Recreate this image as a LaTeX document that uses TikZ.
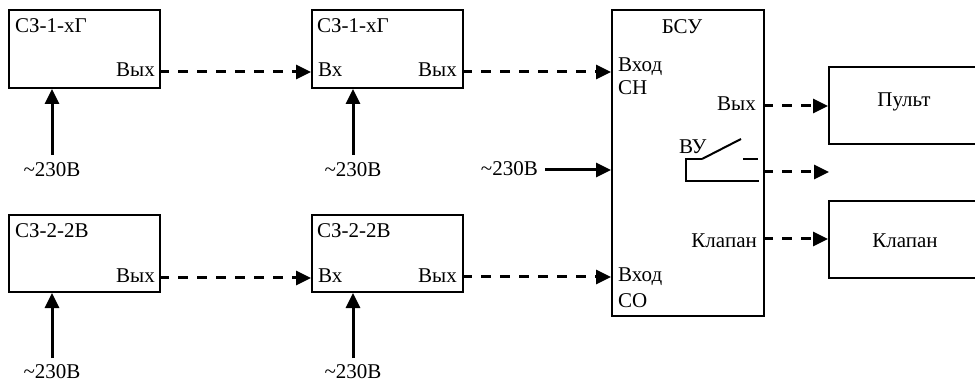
\documentclass[tikz,border=0pt]{standalone}
\usepackage{fontspec}
\setmainfont{Liberation Serif}
\usetikzlibrary{arrows.meta}

\tikzset{
  lbl/.style={inner sep=0pt, font=\fontsize{21}{25}\selectfont},
  blk/.style={draw, line width=2pt, rectangle, inner sep=0pt, anchor=north west},
  power/.style={line width=3pt, -{Triangle[length=15pt,width=14pt]}},
  signal/.style={line width=3pt, dash pattern=on 10pt off 9pt, -{Triangle[length=15pt,width=14pt]}},
  contact/.style={line width=2pt},
}

\begin{document}
\begin{tikzpicture}[x=1pt, y=-1pt]
  \clip (0,0) rectangle (975,382);
  \fill[white] (0,0) rectangle (975,382);

  % blocks
  \node[blk, minimum width=151pt, minimum height=78pt] (b1) at (8,9) {};
  \node[blk, minimum width=151pt, minimum height=78pt] (b2) at (311,9) {};
  \node[blk, minimum width=151pt, minimum height=77pt] (b3) at (8,214) {};
  \node[blk, minimum width=151pt, minimum height=77pt] (b4) at (311,214) {};
  \node[blk, minimum width=152pt, minimum height=306pt] (bsu) at (611,9) {};
  \node[blk, minimum width=162pt, minimum height=77pt] (pult) at (828,66) {};
  \node[blk, minimum width=162pt, minimum height=77pt] (valve) at (828,200) {};

  % block captions
  \node[lbl, anchor=base west] (t1) at (15,33) {СЗ-1-хГ};
  \node[lbl, anchor=base east] (o1) at (155,77) {Вых};
  \node[lbl, anchor=base west] (t2) at (317,33) {СЗ-1-хГ};
  \node[lbl, anchor=base west] (i2) at (318,77) {Вх};
  \node[lbl, anchor=base east] (o2) at (457,77) {Вых};
  \node[lbl, anchor=base west] (t3) at (15,238) {СЗ-2-2В};
  \node[lbl, anchor=base east] (o3) at (155,283) {Вых};
  \node[lbl, anchor=base west] (t4) at (317,238) {СЗ-2-2В};
  \node[lbl, anchor=base west] (i4) at (318,283) {Вх};
  \node[lbl, anchor=base east] (o4) at (457,283) {Вых};

  \node[lbl, anchor=base] (tb) at (682,34) {БСУ};
  \node[lbl, anchor=base west] (in1a) at (618,72) {Вход};
  \node[lbl, anchor=base west] (in1b) at (618,95) {СН};
  \node[lbl, anchor=base east] (ob) at (756,111) {Вых};
  \node[lbl, anchor=base west] (vu) at (679,154) {ВУ};
  \node[lbl, anchor=base east] (kb) at (757,248) {Клапан};
  \node[lbl, anchor=base west] (in2a) at (618,282) {Вход};
  \node[lbl, anchor=base west] (in2b) at (618,308) {СО};

  \node[lbl, anchor=base] (tp) at (904,107) {Пульт};
  \node[lbl, anchor=base] (tv) at (905,248) {Клапан};

  % mains supply labels
  \node[lbl, anchor=base] (p1) at (52,177) {\textasciitilde230В};
  \node[lbl, anchor=base] (p2) at (353,177) {\textasciitilde230В};
  \node[lbl, anchor=base] (p3) at (52,378) {\textasciitilde230В};
  \node[lbl, anchor=base] (p4) at (353,378) {\textasciitilde230В};
  \node[lbl, anchor=base east] (p5) at (538,176) {\textasciitilde230В};

  % port coordinates
  \coordinate (b1out) at (159,72);
  \coordinate (b2in) at (311,72);
  \coordinate (b2out) at (462,72);
  \coordinate (bsuin1) at (611,72);
  \coordinate (b3out) at (159,278);
  \coordinate (b4in) at (311,278);
  \coordinate (b4out) at (462,277);
  \coordinate (bsuin2) at (611,277);
  \coordinate (bsupw) at (611,170);
  \coordinate (bsuout) at (763,106);
  \coordinate (pultin) at (828,106);
  \coordinate (bsuvu) at (763,172);
  \coordinate (vuend) at (829,172);
  \coordinate (bsukl) at (763,239);
  \coordinate (valvein) at (828,239);

  % power feeds
  \draw[power] (p1.north |- 0,155) -- (b1.south -| p1.north);
  \draw[power] (p2.north |- 0,155) -- (b2.south -| p2.north);
  \draw[power] (p3.north |- 0,358) -- (b3.south -| p3.north);
  \draw[power] (p4.north |- 0,358) -- (b4.south -| p4.north);
  \draw[power] (545,170) -- (bsupw);

  % signal lines
  \draw[signal] (b1out) -- (b2in);
  \draw[signal] (b2out) -- (bsuin1);
  \draw[signal] (b3out) -- (b4in);
  \draw[signal] (b4out) -- (bsuin2);
  \draw[signal] (bsuout) -- (pultin);
  \draw[signal] (bsuvu) -- (vuend);
  \draw[signal] (bsukl) -- (valvein);

  % relay contact
  \draw[contact] (702,159) -- (686,159) -- (686,181) -- (759,181);
  \draw[contact] (702,159) -- (741,139);
  \draw[contact] (743,159) -- (758,159);
\end{tikzpicture}
\end{document}
